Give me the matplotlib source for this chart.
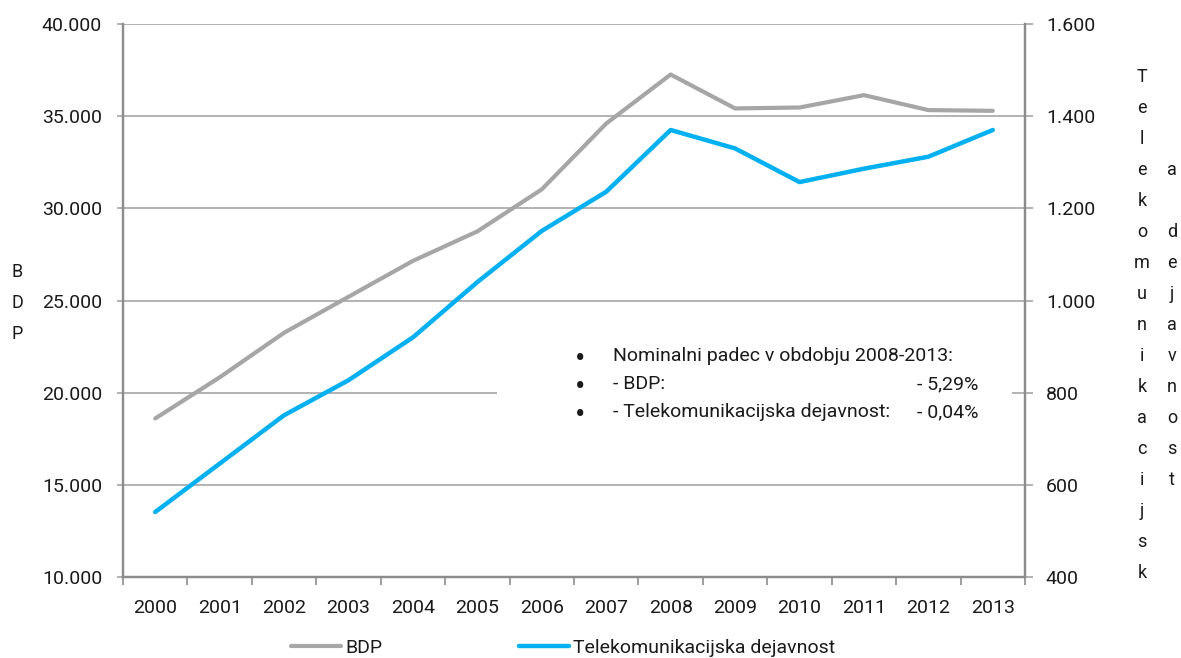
import numpy as np
import matplotlib
matplotlib.use('Agg')
from matplotlib import pyplot as plt
from matplotlib.ticker import FuncFormatter, FixedLocator
from matplotlib.patches import Rectangle

matplotlib.rcParams['font.family'] = ['Roboto', 'DejaVu Sans']

# podatki
leta = ['2000', '2001', '2002', '2003', '2004', '2005', '2006',
        '2007', '2008', '2009', '2010', '2011', '2012', '2013']
bdp = [18600, 20830, 23250, 25200, 27150, 28750, 31030,
       34600, 37260, 35420, 35470, 36140, 35330, 35290]
telekom = [541, 646, 751, 827, 920, 1040, 1151,
           1236, 1370, 1330, 1257, 1286, 1312, 1370]

ime_bdp = 'BDP'
ime_tel = 'Telekomunikacijska dejavnost'
opomba = ['Nominalni padec v obdobju 2008-2013:', '- BDP:', '- Telekomunikacijska dejavnost:']
opomba_vred = ['', '- 5,29%', '- 0,04%']

siva = '#A6A6A6'
modra = '#00B0F0'
os_barva = '#8C8C8C'
txt = '#1A1A1A'

W, H = 1181, 658
fig = plt.figure(figsize=(W / 100, H / 100), dpi=100)
ax = fig.add_axes([123 / W, 1 - 577 / H, (1025 - 123) / W, (577 - 24) / H])
ax2 = ax.twinx()

x = np.arange(len(leta))
ax.plot(x, bdp, color=siva, lw=3.0, zorder=5, label=ime_bdp, solid_capstyle='round')
ax2.plot(x, telekom, color=modra, lw=3.2, zorder=5, label=ime_tel, solid_capstyle='round')

ax.set_xlim(-0.5, len(leta) - 0.5)
ax.set_ylim(10000, 40000)
ax2.set_ylim(400, 1600)
ax.set_yticks(np.arange(10000, 40001, 5000))
ax2.set_yticks(np.arange(400, 1601, 200))

fmt = FuncFormatter(lambda v, p: f'{int(v):,}'.replace(',', '.'))
ax.yaxis.set_major_formatter(fmt)
ax2.yaxis.set_major_formatter(fmt)

# x os: oznake na sredini, kljukice na mejah
ax.set_xticks(x)
ax.set_xticklabels(leta)
ax.xaxis.set_minor_locator(FixedLocator(np.arange(-0.5, len(leta), 1.0)))
ax.tick_params(axis='x', which='major', length=0, pad=16, labelsize=14, labelcolor=txt)
ax.tick_params(axis='x', which='minor', length=6, width=1.2, color=os_barva, direction='out')
ax.tick_params(axis='y', length=4.5, width=1.2, color=siva, pad=10.5, labelsize=14, labelcolor=txt)
ax2.tick_params(axis='y', length=5.5, width=1.2, color=siva, pad=9.5, labelsize=14, labelcolor=txt)

ax.grid(axis='y', color=siva, lw=1.2, zorder=1)
ax.set_axisbelow(True)

for a in (ax, ax2):
    a.spines['top'].set_visible(False)
    for s in ('left', 'right', 'bottom'):
        a.spines[s].set_color(os_barva)
        a.spines[s].set_linewidth(1.6)

# okvir z opombo
ax2.add_patch(Rectangle((0.4146, 0.27), 0.571, 0.17, transform=ax.transAxes,
                        facecolor='white', edgecolor='none', zorder=2))
ys = [0.3996, 0.349, 0.2984]
for i, y in enumerate(ys):
    ax2.text(0.5067, y - 0.006, '\u2022', transform=ax.transAxes, ha='center', va='center',
             fontsize=22, color=txt, zorder=6)
    ax2.text(0.543, y, opomba[i], transform=ax.transAxes, ha='left', va='center',
             fontsize=14, color=txt, zorder=6)
    if opomba_vred[i]:
        ax2.text(0.948, y, opomba_vred[i], transform=ax.transAxes, ha='right', va='center',
                 fontsize=14, color=txt, zorder=6)

# naslovi osi, navpicne crke
for i, c in enumerate(ime_bdp):
    fig.text(17 / W, 1 - (272 + 31 * i) / H, c, ha='center', va='center', fontsize=13, color=txt)
col1 = ime_tel[:17]
col2 = ime_tel[17:].strip()
col2 = col2[0] + ' ' + col2[1:].strip()
for i, c in enumerate(col1):
    fig.text(1142 / W, 1 - (77 + 31 * i) / H, c, ha='center', va='center', fontsize=13, color=txt)
for i, c in enumerate(col2):
    if c != ' ':
        fig.text(1172 / W, 1 - (170 + 31 * i) / H, c, ha='center', va='center', fontsize=13, color=txt)

h1, l1 = ax.get_legend_handles_labels()
h2, l2 = ax2.get_legend_handles_labels()
fig.legend(h1 + h2, l1 + l2, loc='center', bbox_to_anchor=(563 / W, 1 - 648 / H),
           ncol=2, frameon=False, fontsize=14, handlelength=2.6, handletextpad=0.2,
           columnspacing=7.0, labelcolor=txt)

fig.savefig('out.png', dpi=100)
